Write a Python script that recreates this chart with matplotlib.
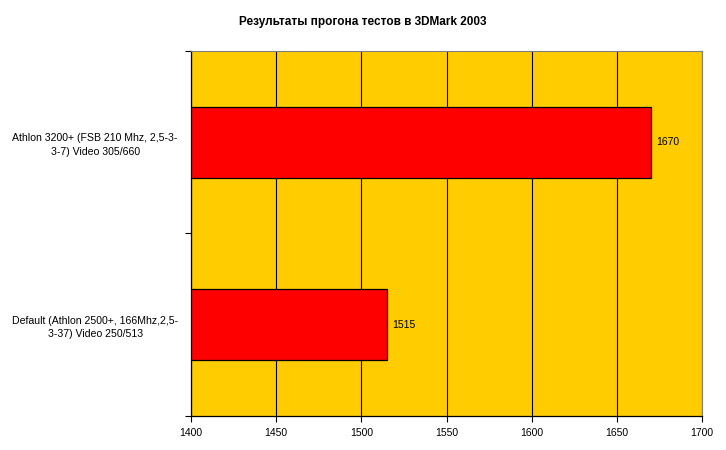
import matplotlib.pyplot as plt
import numpy as np

categories = ['Default (Athlon 2500+, 166Mhz,2,5-\n3-37) Video 250/513',
              'Athlon 3200+ (FSB 210 Mhz, 2,5-3-\n3-7) Video 305/660']
scores = [1515, 1670]
xticks = [1400, 1450, 1500, 1550, 1600, 1650, 1700]
title = 'Результаты прогона тестов в 3DMark 2003'

plt.rcParams['font.family'] = ['Liberation Sans', 'DejaVu Sans']

fig = plt.figure(figsize=(7.26, 4.5), dpi=100)
ax = fig.add_axes([0.2631, 0.0756, 0.7039, 0.8111])
ax.set_facecolor('#FFCC00')

y = np.arange(len(categories))
ax.barh(y, [s - xticks[0] for s in scores], left=xticks[0], height=0.39,
        color='#FF0000', edgecolor='black', linewidth=0.9, zorder=3)

for yi, s in zip(y, scores):
    ax.annotate(str(s), (s, yi), xytext=(4, 0), textcoords='offset points',
                va='center', ha='left', fontsize=7.5, zorder=4)

ax.set_xlim(xticks[0], xticks[-1])
ax.set_ylim(-0.5, len(categories) - 0.5)
ax.set_xticks(xticks)
ax.set_xticklabels([str(t) for t in xticks], fontsize=7.5)
ax.grid(axis='x', color='black', linewidth=0.8, zorder=1)

# category boundaries get ticks, labels go in the middle
ax.set_yticks([-0.5, 0.5, 1.5])
ax.set_yticklabels([])
ax.set_yticks(y, minor=True)
ax.set_yticklabels(categories, minor=True, fontsize=7.6, ha='center',
                   linespacing=1.45)
ax.tick_params(axis='y', which='minor', length=0, pad=69)
ax.tick_params(axis='y', which='major', length=4, direction='out', width=0.8)
ax.tick_params(axis='x', length=4, direction='out', width=0.8, pad=5)

for side in ['top', 'right']:
    ax.spines[side].set_color('#808080')
    ax.spines[side].set_linewidth(0.8)
for side in ['left', 'bottom']:
    ax.spines[side].set_color('black')
    ax.spines[side].set_linewidth(0.9)

fig.text(0.5, 0.951, title, ha='center', va='center', fontsize=8.5,
         fontweight='bold', family=['Liberation Sans Narrow', 'Liberation Sans', 'DejaVu Sans'])

fig.savefig('out.png', dpi=100)
